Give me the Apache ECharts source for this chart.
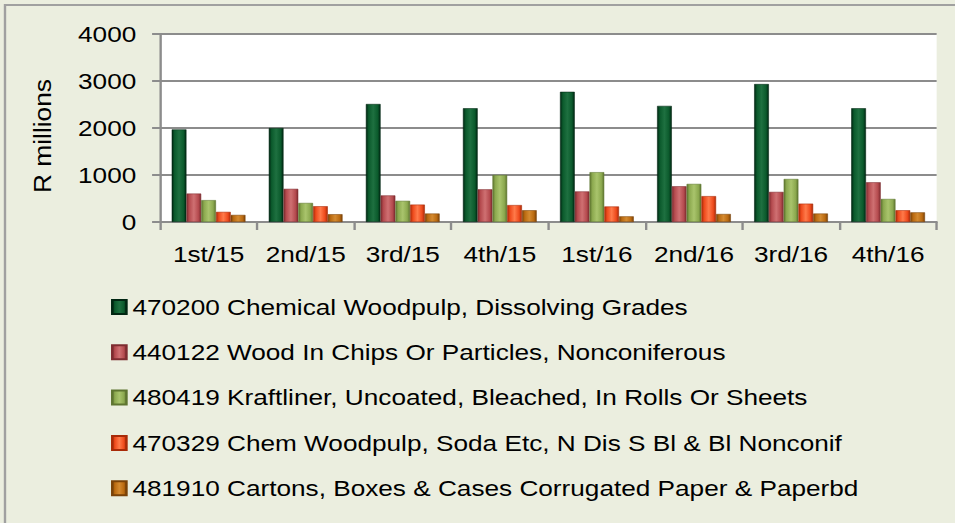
<!DOCTYPE html>
<html>
<head>
<meta charset="utf-8">
<script src="https://cdn.jsdelivr.net/npm/echarts@6/dist/echarts.min.js"></script>
<style>
  html, body { margin: 0; padding: 0; background: #EBEEDF; overflow: hidden; }
  /* the chart is laid out narrower and widened by 1.19 so the type reads broad */
  #chart { width: 802.5px; height: 523px; transform: scaleX(1.19); transform-origin: 0 0; }
</style>
</head>
<body>
<div id="chart"></div>
<script>
// Quarterly export values, R millions
const quarters = ['1st/15', '2nd/15', '3rd/15', '4th/15', '1st/16', '2nd/16', '3rd/16', '4th/16'];

const seriesNames = [
  '470200 Chemical Woodpulp, Dissolving Grades',
  '440122 Wood In Chips Or Particles, Nonconiferous',
  '480419 Kraftliner, Uncoated, Bleached, In Rolls Or Sheets',
  '470329 Chem Woodpulp, Soda Etc, N Dis S Bl & Bl Nonconif',
  '481910 Cartons, Boxes & Cases Corrugated Paper & Paperbd'
];

const woodpulpDissolving = [1970, 2000, 2510, 2420, 2770, 2470, 2935, 2420];
const woodChips          = [605, 705, 565, 695, 650, 760, 640, 845];
const kraftliner         = [465, 405, 450, 1000, 1060, 810, 915, 490];
const woodpulpSoda       = [215, 335, 370, 360, 330, 550, 390, 250];
const cartons            = [150, 165, 180, 250, 120, 170, 180, 205];

const yTicks = { min: 0, max: 4000, interval: 1000 };

// [edge shade, body colour, highlight]
const palette = [
  ['#002612', '#0B5A2C', '#1E7040'],
  ['#7E2C30', '#B54B4F', '#CF7072'],
  ['#5E7530', '#8CA94F', '#A9C46C'],
  ['#A82A08', '#EE4A1C', '#FF7A4A'],
  ['#7A4208', '#BA6A10', '#D48A30']
];

function bevel(c) {
  return {
    type: 'linear', x: 0, y: 0, x2: 1, y2: 0,
    colorStops: [
      { offset: 0, color: c[0] },
      { offset: 0.18, color: c[1] },
      { offset: 0.5, color: c[2] },
      { offset: 0.82, color: c[1] },
      { offset: 1, color: c[0] }
    ]
  };
}

const values = [woodpulpDissolving, woodChips, kraftliner, woodpulpSoda, cartons];
const FONT = '"Liberation Sans", Arial, sans-serif';

const chart = echarts.init(document.getElementById('chart'), null, { renderer: 'svg' });
chart.setOption({
  backgroundColor: '#EBEEDF',
  animation: false,
  textStyle: { fontFamily: FONT },
  graphic: [
    {
      type: 'rect',
      shape: { x: 4.2, y: 5, width: 820, height: 530 },
      style: { fill: 'none', stroke: '#A0A0A0', lineWidth: 2 },
      z: -1
    },
    {
      type: 'text',
      x: 36.3, y: 136,
      rotation: Math.PI / 2,
      scaleX: 1.35,
      style: {
        text: 'R millions',
        font: '19.5px ' + FONT,
        fill: '#000',
        align: 'center',
        verticalAlign: 'middle'
      }
    }
  ],
  grid: { left: 134.5, right: 15.9, top: 34, bottom: 301, show: true, backgroundColor: '#FFFFFF', borderWidth: 0 },
  legend: {
    orient: 'vertical',
    left: 93.3,
    top: 296,
    padding: 0,
    itemWidth: 12,
    itemHeight: 14,
    itemGap: 23.3,
    icon: 'rect',
    textStyle: { fontSize: 22, lineHeight: 22, color: '#000' },
    data: seriesNames
  },
  xAxis: {
    type: 'category',
    data: quarters,
    axisLine: { lineStyle: { color: '#8C8C8C', width: 2 } },
    axisTick: { show: true, length: 8, lineStyle: { color: '#8C8C8C', width: 2 } },
    axisLabel: { fontSize: 22, color: '#000', margin: 21, interval: 0 }
  },
  yAxis: {
    type: 'value',
    min: yTicks.min, max: yTicks.max, interval: yTicks.interval,
    axisLine: { show: true, lineStyle: { color: '#8C8C8C', width: 2 } },
    axisTick: { show: true, length: 6.7, lineStyle: { color: '#8C8C8C', width: 2 } },
    axisLabel: { fontSize: 22, color: '#000', margin: 20, formatter: v => String(v) },
    splitLine: { lineStyle: { color: '#8C8C8C', width: 2 } }
  },
  series: values.map((v, i) => ({
    name: seriesNames[i],
    type: 'bar',
    data: v,
    barWidth: 12.4,
    barGap: '0%',
    itemStyle: {
      color: bevel(palette[i]),
      borderColor: palette[i][0],
      borderWidth: 0.5
    }
  }))
});
</script>
</body>
</html>
